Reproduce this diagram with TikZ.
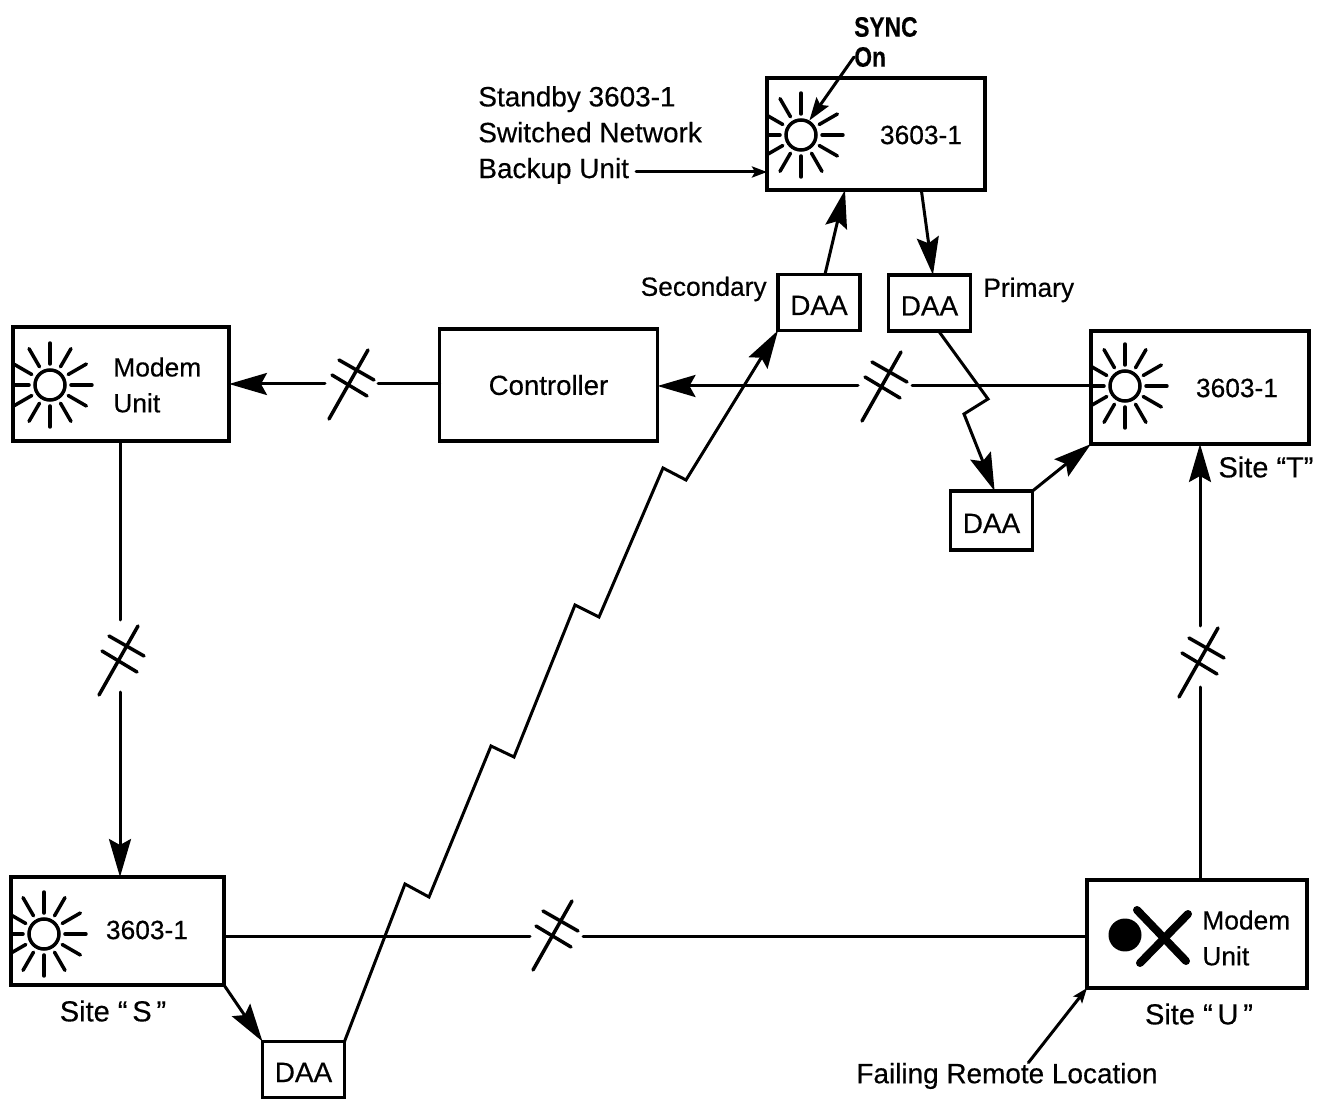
\documentclass[tikz,border=0pt]{standalone}
\usepackage{fontspec}
\setmainfont{Liberation Sans}[FakeBold=0.4]
\usetikzlibrary{arrows.meta}

\tikzset{
    unitbox/.style={draw, line width=0.07cm, outer sep=0pt, inner sep=0pt, minimum width=4.36cm, minimum height=2.24cm},
    daabox/.style={unitbox, minimum width=1.64cm, minimum height=1.12cm, text height=0.5cm},
    lampdisc/.style={draw, circle, line width=0.07cm, inner sep=0pt, minimum size=0.6cm},
    lampray/.style={line width=0.07cm, line cap=round},
    wire/.style={line width=0.06cm, line cap=round},
    bigtip/.style={-{Stealth[length=0.76cm, width=0.44cm, inset=0.12cm]}},
    smalltip/.style={-{Stealth[length=0.3cm, width=0.22cm, inset=0.06cm]}},
    label/.style={font=\fontsize{15.9}{20.4}\selectfont, inner sep=0pt},
    sublabel/.style={font=\fontsize{15}{20.4}\selectfont, inner sep=0pt},
    sitelabel/.style={font=\fontsize{16.5}{20.4}\selectfont, inner sep=0pt},
    synclabel/.style={anchor=west, inner sep=0pt, xscale=0.81, font=\fontsize{16}{18}\selectfont\bfseries},
    cutmark/.pic={
        \draw[wire, line width=0.07cm] (-21,35) -- (18,-34);
        \draw[wire, line width=0.07cm] (-11,-24) -- (24,-4);
        \draw[wire, line width=0.07cm] (-18,-9) -- (17,12);
    }
}

\newcommand{\sunlamp}[3]{
    \node[lampdisc] (#1lamp) at (#2) {};
    \begin{scope}
        \clip (#1.south west) rectangle (#1.north east);
        \foreach \a in {#3}
            \draw[lampray] (#1lamp.center) ++(\a:0.42cm) -- ++(\a:0.42cm);
    \end{scope}
}

\begin{document}
\begin{tikzpicture}[x=0.02cm, y=-0.02cm]
    \useasboundingbox (0,0) rectangle (1340,1101);

    % units
    \node[unitbox] (standby) at (876,134) {};
    \node[unitbox, minimum width=4.32cm, minimum height=2.28cm] (modem) at (121,384) {};
    \node[unitbox, font=\fontsize{15.7}{21}\selectfont] (controller) at (548.5,385) {Controller};
    \node[unitbox, minimum height=2.26cm] (siteT) at (1200,387.5) {};
    \node[unitbox, minimum width=4.26cm, minimum height=2.16cm] (siteS) at (117.5,931) {};
    \node[unitbox, minimum width=4.4cm, minimum height=2.16cm] (siteU) at (1197,934) {};

    \node[daabox, label, draw, line width=0.07cm] (daaSec) at (819,302.5) {DAA};
    \node[daabox, label, draw, line width=0.07cm] (daaPri) at (929.5,303) {DAA};
    \node[daabox, label, draw, line width=0.07cm, minimum height=1.18cm] (daaT) at (991.5,520.5) {DAA};
    \node[daabox, label, draw, line width=0.07cm] (daaS) at (303.5,1069.5) {DAA};

    % lamps
    \sunlamp{standby}{801,135}{0,30,90,120,...,330}
    \sunlamp{modem}{50,385}{0,30,...,330}
    \sunlamp{siteT}{1125,386}{0,30,...,330}
    \sunlamp{siteS}{44,934}{0,30,...,330}

    \node[circle, fill, inner sep=0pt, minimum size=0.66cm] (failDot) at (1125,935) {};
    \draw[line width=0.16cm, line cap=round] (1137,910) -- (1186,961);
    \draw[line width=0.16cm, line cap=round] (1188,914) -- (1140,963);

    % texts
    \node[label, anchor=west, align=left] (standbyNote) at (478,135) {Standby 3603-1\\Switched Network\\Backup Unit};
    \node[synclabel] (sync) at (854,27) {SYNC};
    \node[synclabel] (syncOn) at (854,57) {On};
    \node[sublabel] (standbyName) at (921,135) {3603-1};
    \node[sublabel, anchor=west, align=left] (modemName) at (113,385) {Modem\\Unit};
    \node[sublabel] (siteTName) at (1237,388) {3603-1};
    \node[sublabel] (siteSName) at (147,930) {3603-1};
    \node[sublabel, anchor=west, align=left] (siteUName) at (1202,938) {Modem\\Unit};
    \node[sublabel, anchor=east] (secondary) at (767,289) {Secondary};
    \node[sublabel, anchor=west] (primary) at (983,290) {Primary};
    \node[sitelabel] (siteTLabel) at (1266,467) {Site “T”};
    \node[sitelabel] (siteSLabel) at (113,1011) {Site “\,S\,”};
    \node[sitelabel] (siteULabel) at (1199,1014) {Site “\,U\,”};
    \node[label] (failing) at (1007,1076) {Failing Remote Location};

    % line breaks
    \pic at (350,384) {cutmark};
    \pic at (120,660) {cutmark};
    \pic at (883,386) {cutmark};
    \pic at (554,935) {cutmark};
    \pic at (1200,662) {cutmark};

    \coordinate (gapA1) at (325,384);
    \coordinate (gapA2) at (378,384);
    \coordinate (gapB1) at (120,620);
    \coordinate (gapB2) at (120,692);
    \coordinate (gapC1) at (858,386);
    \coordinate (gapC2) at (912,386);
    \coordinate (gapD1) at (530,936);
    \coordinate (gapD2) at (583,936);
    \coordinate (gapE1) at (1200,626);
    \coordinate (gapE2) at (1200,687);

    % connections
    \draw[wire] (controller.west |- gapA2) -- (gapA2);
    \draw[wire, bigtip] (gapA1) -- (modem.east |- gapA1);
    \draw[wire] (modem.south -| gapB1) -- (gapB1);
    \draw[wire, bigtip] (gapB2) -- (siteS.north -| gapB2);
    \draw[wire] (siteT.west |- gapC2) -- (gapC2);
    \draw[wire, bigtip] (gapC1) -- (controller.east |- gapC1);
    \draw[wire] (siteS.east |- gapD1) -- (gapD1);
    \draw[wire] (gapD2) -- (siteU.west |- gapD2);
    \draw[wire] (siteU.north -| gapE2) -- (gapE2);
    \draw[wire, bigtip] (gapE1) -- (siteT.south -| gapE1);

    \draw[wire, bigtip] (siteS.south east) -- (daaS.north west);
    \draw[wire, bigtip] (daaSec.78) -- (standby.-119);
    \draw[wire, bigtip] (standby.-51) -- (daaPri.83);
    \draw[wire, bigtip] (daaT.north east) -- (siteT.south west);

    \draw[wire, bigtip] (daaS.north east) -- (405,884) -- (429,897) -- (491,746) -- (514,757)
        -- (575,605) -- (599,617) -- (663,468) -- (686,480) -- (daaSec.south west);
    \draw[wire, bigtip] (daaPri.-72) -- (988,399) -- (964,414) -- (daaT.84);

    \draw[wire, smalltip] (636,172) -- (standby.west |- 0,172);
    \draw[wire, {Stealth[length=0.46cm, width=0.3cm, inset=0.08cm]}-] (standbylamp.60) -- (syncOn.west);
    \draw[wire, smalltip] (failing.32) -- (siteU.south west);
\end{tikzpicture}
\end{document}
